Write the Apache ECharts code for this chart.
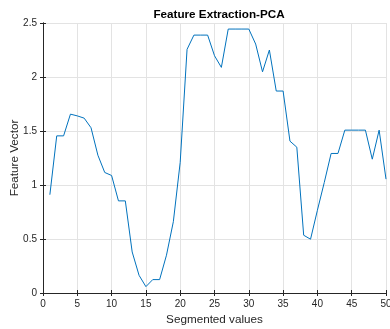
<!DOCTYPE html>
<html>
<head>
<meta charset="utf-8">
<script src="https://cdn.jsdelivr.net/npm/echarts@6/dist/echarts.min.js"></script>
<style>
  html, body { margin: 0; padding: 0; background: #fff; }
  #chart { width: 390px; height: 329px; }
</style>
</head>
<body>
<div id="chart"></div>
<script>
const segments = [1, 2, 3, 4, 5, 6, 7, 8, 9, 10,
  11, 12, 13, 14, 15, 16, 17, 18, 19, 20,
  21, 22, 23, 24, 25, 26, 27, 28, 29, 30,
  31, 32, 33, 34, 35, 36, 37, 38, 39, 40,
  41, 42, 43, 44, 45, 46, 47, 48, 49, 50]
const featureVector = [0.91, 1.455, 1.455, 1.656, 1.64, 1.619, 1.53, 1.276, 1.116, 1.088,
  0.853, 0.853, 0.38, 0.164, 0.059, 0.124, 0.124, 0.35, 0.66, 1.21,
  2.256, 2.388, 2.388, 2.388, 2.197, 2.089, 2.444, 2.444, 2.444, 2.444,
  2.305, 2.048, 2.25, 1.87, 1.87, 1.406, 1.35, 0.535, 0.498, 0.766,
  1.023, 1.292, 1.292, 1.508, 1.508, 1.508, 1.508, 1.239, 1.508, 1.054]
const xTicks = [0, 5, 10, 15, 20, 25, 30, 35, 40, 45, 50]
const yTicks = ['0', '0.5', '1', '1.5', '2', '2.5']

const axisColor = '#262626'
const font = 'Liberation Sans, Arial, Helvetica, sans-serif'

let myChart = echarts.init(document.getElementById('chart'))
let option = {
  animation: false,
  title: {
    text: 'Feature Extraction-PCA',
    left: 214,
    textAlign: 'center',
    top: 4,
    textStyle: { fontSize: 11.7, fontWeight: 'bold', color: '#000', fontFamily: font }
  },
  grid: { left: 43, right: 4, top: 23, bottom: 36, containLabel: false, outerBoundsMode: 'none' },
  xAxis: [
    {
      type: 'value', min: 0, max: 50, interval: 5,
      name: 'Segmented values', nameLocation: 'middle', nameGap: 21, nameMoveOverlap: false,
      nameTextStyle: { fontSize: 11.7, color: axisColor, fontFamily: font },
      axisLine: { show: true, lineStyle: { color: axisColor, width: 1 } },
      axisTick: { show: true, inside: true, length: 3, lineStyle: { color: axisColor } },
      axisLabel: { fontSize: 10, color: axisColor, fontFamily: font, margin: 6,
        formatter: v => xTicks.includes(v) ? String(v) : '' },
      splitLine: { show: true, lineStyle: { color: '#e3e3e3', width: 1 } }
    },
    {
      type: 'value', min: 0, max: 50, interval: 5, position: 'top',
      axisLine: { show: true, lineStyle: { color: axisColor, width: 1 } },
      axisTick: { show: true, inside: true, length: 3, lineStyle: { color: axisColor } },
      axisLabel: { show: false },
      splitLine: { show: false }
    }
  ],
  yAxis: [
    {
      type: 'value', min: 0, max: 2.5, interval: 0.5,
      name: 'Feature Vector', nameLocation: 'middle', nameGap: 22, nameMoveOverlap: false,
      nameTextStyle: { fontSize: 11.7, color: axisColor, fontFamily: font },
      axisLine: { show: true, lineStyle: { color: axisColor, width: 1 } },
      axisTick: { show: true, inside: true, length: 3, lineStyle: { color: axisColor } },
      axisLabel: { fontSize: 10, color: axisColor, fontFamily: font, margin: 6,
        formatter: v => yTicks[Math.round(v / 0.5)] },
      splitLine: { show: true, lineStyle: { color: '#e3e3e3', width: 1 } }
    },
    {
      type: 'value', min: 0, max: 2.5, interval: 0.5, position: 'right',
      axisLine: { show: true, lineStyle: { color: axisColor, width: 1 } },
      axisTick: { show: true, inside: true, length: 3, lineStyle: { color: axisColor } },
      axisLabel: { show: false },
      splitLine: { show: false }
    }
  ],
  series: [
    {
      type: 'line',
      data: segments.map((s, i) => [s, featureVector[i]]),
      showSymbol: false,
      lineStyle: { color: '#0072BD', width: 1 }
    }
  ]
}
option && myChart.setOption(option)
</script>
</body>
</html>
